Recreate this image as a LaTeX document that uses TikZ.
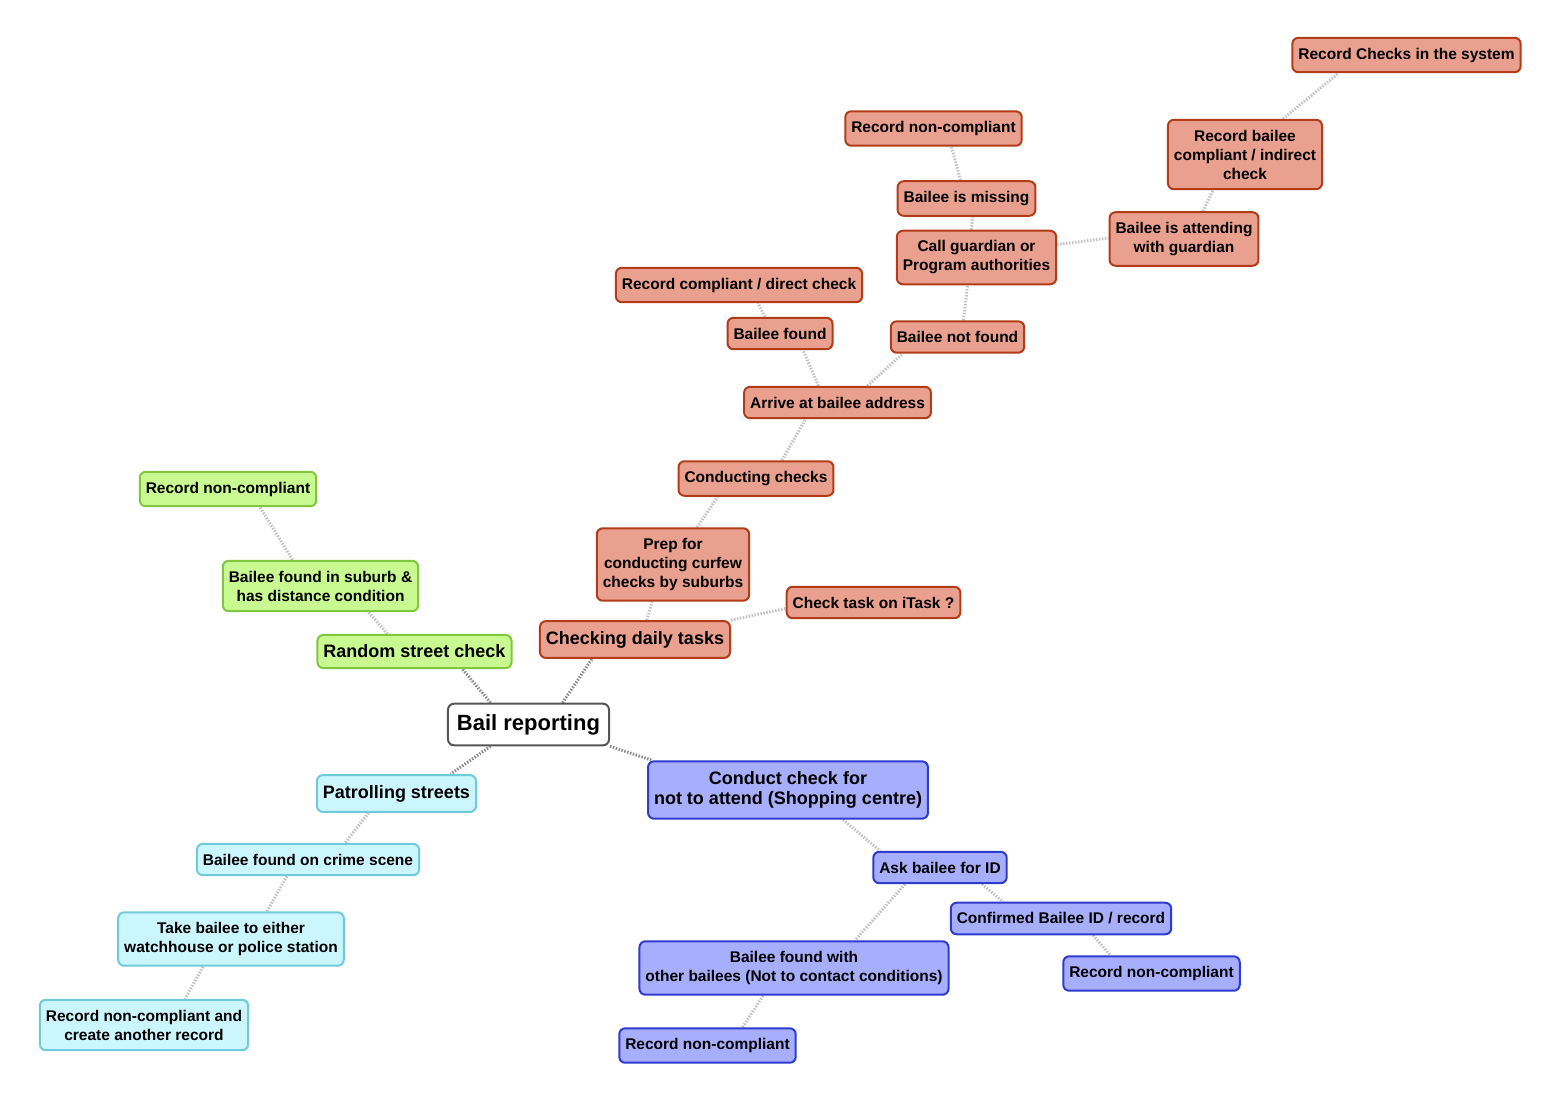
\documentclass[tikz,border=0pt]{standalone}
\usepackage{fontspec}
\setmainfont{Liberation Sans}
\usetikzlibrary{backgrounds}
\definecolor{redfill}{HTML}{E9A08F}
\definecolor{redline}{HTML}{B23C17}
\definecolor{greenfill}{HTML}{C9F991}
\definecolor{greenline}{HTML}{80C63E}
\definecolor{cyanfill}{HTML}{CCF6FD}
\definecolor{cyanline}{HTML}{6FCADC}
\definecolor{bluefill}{HTML}{A7AEFC}
\definecolor{blueline}{HTML}{2D3BCF}
\definecolor{rootdraw}{HTML}{555555}
\definecolor{linkgray}{HTML}{C2C2C2}
\definecolor{darklink}{HTML}{8C8C8C}
\begin{document}
\begin{tikzpicture}[x=1pt,y=-1pt,
  box/.style={rounded corners=6pt,line width=2pt,align=center,inner xsep=6pt,inner ysep=10pt,
    font=\fontsize{15.5}{19}\selectfont\bfseries},
  topic/.style={box,font=\fontsize{18}{20.5}\selectfont\bfseries},
  rootbox/.style={box,fill=white,draw=rootdraw,inner xsep=9pt,inner ysep=10.5pt,
    font=\fontsize{22}{26}\selectfont\bfseries},
  redbox/.style={fill=redfill,draw=redline},
  greenbox/.style={fill=greenfill,draw=greenline},
  cyanbox/.style={fill=cyanfill,draw=cyanline},
  bluebox/.style={fill=bluefill,draw=blueline},
  link/.style={draw=linkgray,line width=3pt,dash pattern=on 1.5pt off 1.5pt},
  rootlink/.style={link,draw=darklink}]
\useasboundingbox (0,0) rectangle (1561,1101);

\node[rootbox] (bail) at (528.5,724.5) {Bail reporting};

\node[topic,redbox] (daily) at (635,639.5) {Checking daily tasks};
\node[box,redbox] (itask) at (873.5,602.5) {Check task on iTask ?};
\node[box,redbox] (prep) at (673,564.5) {Prep for\\conducting curfew\\checks by suburbs};
\node[box,redbox] (checks) at (756,478.5) {Conducting checks};
\node[box,redbox] (arrive) at (837.5,402.5) {Arrive at bailee address};
\node[box,redbox] (found) at (780,333.5) {Bailee found};
\node[box,redbox] (compliant) at (739,285) {Record compliant / direct check};
\node[box,redbox] (notfound) at (957.5,337) {Bailee not found};
\node[box,redbox] (guardian) at (976.5,257.5) {Call guardian or\\Program authorities};
\node[box,redbox] (missing) at (966.5,198.5) {Bailee is missing};
\node[box,redbox] (noncomp) at (933.5,128.5) {Record non-compliant};
\node[box,redbox] (attending) at (1184,239) {Bailee is attending\\with guardian};
\node[box,redbox] (indirect) at (1245,154.5) {Record bailee\\compliant / indirect\\check};
\node[box,redbox] (system) at (1406.5,55) {Record Checks in the system};

\node[topic,greenbox] (random) at (414.5,651.5) {Random street check};
\node[box,greenbox] (suburb) at (320.5,586) {Bailee found in suburb \&\\has distance condition};
\node[box,greenbox] (greennon) at (228,489) {Record non-compliant};

\node[topic,cyanbox] (patrol) at (396.5,793.5) {Patrolling streets};
\node[box,cyanbox] (crime) at (308,859.5) {Bailee found on crime scene};
\node[box,cyanbox] (take) at (231,939) {Take bailee to either\\watchhouse or police station};
\node[box,cyanbox] (cyannon) at (144,1025) {Record non-compliant and\\create another record};

\node[topic,bluebox] (conduct) at (788,790) {Conduct check for\\not to attend (Shopping centre)};
\node[box,bluebox] (askid) at (940,867.5) {Ask bailee for ID};
\node[box,bluebox] (confirmed) at (1061,918.5) {Confirmed Bailee ID / record};
\node[box,bluebox] (bluenon1) at (1151.5,973.5) {Record non-compliant};
\node[box,bluebox] (withothers) at (794,968) {Bailee found with\\other bailees (Not to contact conditions)};
\node[box,bluebox] (bluenon2) at (707.5,1045.5) {Record non-compliant};

\begin{scope}[on background layer]
\fill[white] (0,0) rectangle (1561,1101);
\draw[rootlink] ([xshift=34pt]bail.north) -- ([xshift=-43pt]daily.south);
\draw[rootlink] ([xshift=-38pt]bail.north) -- ([xshift=48pt]random.south);
\draw[rootlink] ([xshift=-38pt]bail.south) -- ([xshift=54pt]patrol.north);
\draw[rootlink] (bail.south east) -- ([xshift=5pt]conduct.north west);

\draw[link] (daily.north east) -- ([yshift=-6pt]itask.west);
\draw[link] ([xshift=12pt]daily.north) -- ([xshift=-21pt]prep.south);
\draw[link] ([xshift=24pt]prep.north) -- ([xshift=-38pt]checks.south);
\draw[link] ([xshift=26pt]checks.north) -- ([xshift=-32pt]arrive.south);
\draw[link] ([xshift=-19pt]arrive.north) -- ([xshift=23pt]found.south);
\draw[link] ([xshift=30pt]arrive.north) -- ([xshift=-55pt]notfound.south);
\draw[link] ([xshift=-15pt]found.north) -- ([xshift=19pt]compliant.south);
\draw[link] ([xshift=6pt]notfound.north) -- ([xshift=-9pt]guardian.south);
\draw[link] ([xshift=-5pt]guardian.north) -- ([xshift=6pt]missing.south);
\draw[link] ([xshift=-6pt]missing.north) -- ([xshift=18pt]noncomp.south);
\draw[link] ([yshift=13pt]guardian.east) -- ([yshift=1pt]attending.west);
\draw[link] ([xshift=19pt]attending.north) -- ([xshift=-32pt]indirect.south);
\draw[link] ([xshift=38pt]indirect.north) -- ([xshift=-68pt]system.south);

\draw[link] ([xshift=-27pt]random.north) -- ([xshift=48pt]suburb.south);
\draw[link] ([xshift=-28pt]suburb.north) -- ([xshift=32pt]greennon.south);

\draw[link] ([xshift=-28pt]patrol.south) -- ([xshift=37pt]crime.north);
\draw[link] ([xshift=-21pt]crime.south) -- ([xshift=36pt]take.north);
\draw[link] ([xshift=-28pt]take.south) -- ([xshift=41pt]cyannon.north);

\draw[link] ([xshift=55pt]conduct.south) -- ([xshift=-60pt]askid.north);
\draw[link] ([xshift=42pt]askid.south) -- ([xshift=-58pt]confirmed.north);
\draw[link] ([xshift=32pt]confirmed.south) -- ([xshift=-41pt]bluenon1.north);
\draw[link] ([xshift=-35pt]askid.south) -- ([xshift=61pt]withothers.north);
\draw[link] ([xshift=-31pt]withothers.south) -- ([xshift=35pt]bluenon2.north);
\end{scope}

\end{tikzpicture}
\end{document}
